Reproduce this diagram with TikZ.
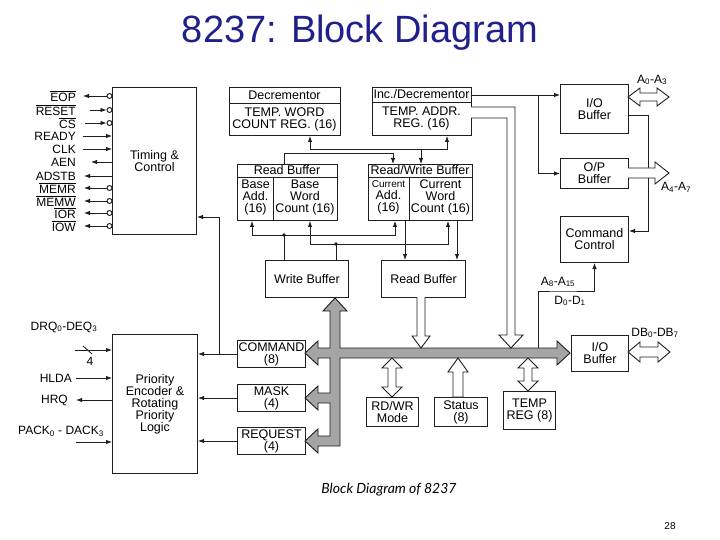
\documentclass[tikz,border=0pt]{standalone}
\usepackage{fontspec}
\setmainfont{Liberation Sans}
\newfontfamily\capfont{Lato}
\usetikzlibrary{arrows.meta}
\definecolor{titleblue}{RGB}{32,32,140}
\definecolor{busgray}{RGB}{165,165,165}
\definecolor{ink}{RGB}{30,30,30}
\newcommand\ovl[1]{$\overline{\hbox{#1}}$}
\newcommand\dfont{\fontsize{12.5}{12}\selectfont}
\newcommand\sfont{\fontsize{12}{12}\selectfont}
\newcommand\smfont{\fontsize{10}{12}\selectfont}
\begin{document}
\begin{tikzpicture}[x=1pt,y=-1pt,
  box/.style={draw=ink,line width=1pt,inner sep=0pt,anchor=north west,align=center,font=\dfont},
  txt/.style={inner sep=0pt,align=center,font=\dfont},
  lab/.style={inner sep=0pt,align=center,font=\sfont},
  sig/.style={circle,draw=ink,fill=white,inner sep=0pt,minimum size=5pt,line width=0.9pt},
  arr/.style={draw=ink,line width=0.8pt,-{Latex[length=6pt,width=4.4pt]}},
  ln/.style={draw=ink,line width=0.8pt},
  hollow/.style={draw=ink,fill=white,line width=0.9pt,line join=miter},
  dot/.style={circle,fill=ink,inner sep=0pt,minimum size=3.8pt}]
\fill[white] (0,0) rectangle (720,540);
\useasboundingbox (0,0) rectangle (720,540);

% title, caption, page
\node[inner sep=0pt,font=\fontsize{38}{40}\selectfont,text=titleblue] (title) at (360,33) {8237: Block Diagram};
\node[inner sep=0pt,font=\capfont\itshape\fontsize{14}{16}\selectfont] (cap) at (389,490) {Block Diagram of 8237};
\node[inner sep=0pt,font=\fontsize{10}{12}\selectfont] (pg) at (670,526) {28};

% ---------- boxes ----------
\node[box,minimum width=84pt,minimum height=147pt] (tc) at (112,87) {Timing \&\\Control};
\node[box,minimum width=85pt,minimum height=139pt] (pr) at (112,334) {Priority\\Encoder \&\\Rotating\\Priority\\Logic};

\node[box,minimum width=111pt,minimum height=48pt] (dec) at (229,87) {};
\draw[ln] (229,103) -- (340,103);
\node[txt] (decT) at (284.5,95) {Decrementor};
\node[txt] (decB) at (284.5,119) {TEMP. WORD\\COUNT REG. (16)};

\node[box,minimum width=99pt,minimum height=48pt] (inc) at (372,87) {};
\draw[ln] (372,102) -- (471,102);
\node[txt] (incT) at (421.5,94.5) {Inc./Decrementor};
\node[txt] (incB) at (421.5,118.5) {TEMP. ADDR.\\REG. (16)};

\node[box,minimum width=100pt,minimum height=56pt] (rb1) at (237,164) {};
\draw[ln] (237,177) -- (337,177);
\draw[ln] (273,177) -- (273,220);
\node[txt] (rb1T) at (287,170.5) {Read Buffer};
\node[txt] (rb1L) at (255.5,197) {Base\\Add.\\(16)};
\node[txt] (rb1R) at (305,197) {Base\\Word\\Count (16)};

\node[box,minimum width=104pt,minimum height=56pt] (rwb) at (368,164) {};
\draw[ln] (368,177) -- (472,177);
\draw[ln] (409,177) -- (409,220);
\node[txt] (rwbT) at (420,170.5) {Read/Write Buffer};
\node[txt] (rwbL) at (388.5,197) {{\smfont Current}\\Add.\\(16)};
\node[txt] (rwbR) at (440.5,197) {Current\\Word\\Count (16)};

\node[box,minimum width=83pt,minimum height=37pt] (wb) at (265,260) {Write Buffer};
\node[box,minimum width=84pt,minimum height=37pt] (rb2) at (381,260) {Read Buffer};

\node[box,minimum width=68pt,minimum height=27pt] (cmd) at (237,340) {COMMAND\\(8)};
\node[box,minimum width=68pt,minimum height=27pt] (mask) at (237,384) {MASK\\(4)};
\node[box,minimum width=68pt,minimum height=27pt] (req) at (237,427) {REQUEST\\(4)};

\node[box,minimum width=52pt,minimum height=29pt] (rdwr) at (366,397) {RD/WR\\Mode};
\node[box,minimum width=53pt,minimum height=29pt] (stat) at (434,397) {Status\\(8)};
\node[box,minimum width=52pt,minimum height=38pt] (treg) at (503,391) {TEMP\\REG (8)};

\node[box,minimum width=68pt,minimum height=49pt] (io1) at (560,84) {I/O\\Buffer};
\node[box,minimum width=68pt,minimum height=30pt] (op) at (560,158) {O/P\\Buffer};
\node[box,minimum width=68pt,minimum height=46pt] (cc) at (560,216) {Command\\Control};
\node[box,minimum width=57pt,minimum height=36pt] (io2) at (571,335) {I/O\\Buffer};

% ---------- timing & control signals ----------
\node[lab,anchor=east] (l1) at (76,96) {\ovl{EOP}};
\node[lab,anchor=east] (l2) at (76,110) {\ovl{RESET}};
\node[lab,anchor=east] (l3) at (76,123) {\ovl{CS}};
\node[lab,anchor=east] (l4) at (76,136) {READY};
\node[lab,anchor=east] (l5) at (76,149) {CLK};
\node[lab,anchor=east] (l6) at (76,162) {AEN};
\node[lab,anchor=east] (l7) at (76,176) {ADSTB};
\node[lab,anchor=east] (l8) at (76,188) {\ovl{MEMR}};
\node[lab,anchor=east] (l9) at (76,201) {\ovl{MEMW}};
\node[lab,anchor=east] (l10) at (76,213) {\ovl{IOR}};
\node[lab,anchor=east] (l11) at (76,226) {\ovl{IOW}};

\node[sig] (c1) at (109.5,96) {};
\node[sig] (c2) at (109.5,110) {};
\node[sig] (c3) at (109.5,123) {};
\node[sig] (c8) at (109.5,188) {};
\node[sig] (c9) at (109.5,201) {};
\node[sig] (c10) at (109.5,213) {};
\node[sig] (c11) at (109.5,226) {};

\draw[arr] (c1.west) -- ([xshift=7pt]l1.east);
\draw[arr] ([xshift=14pt]l2.east) -- (c2.west);
\draw[arr] ([xshift=9pt]l3.east) -- (c3.west);
\draw[arr] ([xshift=7pt]l4.east) -- (tc.west |- l4.east);
\draw[arr] ([xshift=7pt]l5.east) -- (tc.west |- l5.east);
\draw[arr] (tc.west |- l6.east) -- ([xshift=15pt]l6.east);
\draw[arr] (tc.west |- l7.east) -- ([xshift=8pt]l7.east);
\draw[arr] (c8.west) -- ([xshift=8pt]l8.east);
\draw[arr] (c9.west) -- ([xshift=8pt]l9.east);
\draw[arr] (c10.west) -- ([xshift=8pt]l10.east);
\draw[arr] (c11.west) -- ([xshift=8pt]l11.east);

% ---------- priority signals ----------
\node[lab] (drq) at (64,327) {DRQ\textsubscript{0}-DEQ\textsubscript{3}};
\coordinate (drqS) at (75,350);
\draw[arr] (drqS) -- (pr.west |- drqS);
\draw[ln] (83,346) -- (92,354);
\node[lab] (four) at (90,361) {4};
\node[lab,anchor=east] (hlda) at (72,378) {HLDA};
\draw[arr] ([xshift=4pt]hlda.east) -- (pr.west |- hlda.east);
\node[lab,anchor=east] (hrq) at (68,400) {HRQ};
\draw[arr] (pr.west |- hrq.east) -- ([xshift=8pt]hrq.east);
\node[lab] (pack) at (61,431) {PACK\textsubscript{0} - DACK\textsubscript{3}};
\coordinate (packS) at (76,442);
\draw[arr] (packS) -- (pr.west |- packS);

% ---------- command / mask / request to priority & timing ----------
\coordinate (j1) at (219,353.5);
\draw[arr] (cmd.west) -- (pr.east |- cmd.west);
\draw[arr] (j1) |- (tc.east |- 0,217);
\draw[arr] (mask.west) -- (pr.east |- mask.west);
\draw[arr] (req.west) -- (pr.east |- req.west);

% ---------- register interconnect ----------
\coordinate (jA) at (421,149);
\draw[arr] (jA) -| (dec.south -| 310,0);
\draw[arr] (jA) -| (inc.south -| 447,0);
\draw[arr] (jA) -- (rwb.north -| jA);
\draw[arr] (rb1.north -| 284,0) |- (393,153) -- (rwb.north -| 393,0);

\coordinate (jB) at (284,235);
\coordinate (jC) at (336,244);
\draw[ln] (wb.north -| jB) -- (jB);
\draw[ln] (wb.north -| jC) -- (jC);
\draw[arr] (jB) -| (rb1.south -| 252,0);
\draw[arr] (jB) -| (rwb.south -| 395,0);
\draw[arr] (jC) -| (rb1.south -| 310,0);
\draw[arr] (jC) -| (rwb.south -| 448,0);
\node[dot] (dB) at (jB) {};
\node[dot] (dC) at (jC) {};
\draw[arr] (rwb.south -| 405,0) -- (rb2.north -| 405,0);
\draw[arr] (rwb.south -| 457,0) -- (rb2.north -| 457,0);

% ---------- right column ----------
\coordinate (jD) at (538,95);
\draw[arr] (inc.east |- jD) -- (io1.west |- jD);
\draw[arr] (jD) |- (op.west);
\draw[arr] (io1.east |- 0,115) -- (648,115) |- (cc.east |- 0,231);
\coordinate (jE) at (538,348);
\draw[arr] (jE) |- (560,291) -| (cc.south);
\node[lab] (a815) at (558,282) {A\textsubscript{8}-A\textsubscript{15}};
\node[lab] (d01) at (570,301) {D\textsubscript{0}-D\textsubscript{1}};

% ---------- internal bus ----------
\filldraw[fill=busgray,draw=ink,line width=0.9pt,line join=miter]
 (335,298) -- (347,311) -- (340,311) -- (340,348) -- (557,348) -- (557,341) -- (570,353) -- (557,365) -- (557,358)
 -- (340,358) -- (340,446) -- (318,446) -- (318,453) -- (305,441) -- (318,429) -- (318,436) -- (330,436)
 -- (330,403) -- (318,403) -- (318,410) -- (305,398) -- (318,386) -- (318,393) -- (330,393)
 -- (330,358) -- (318,358) -- (318,365) -- (305,353) -- (318,341) -- (318,348) -- (330,348)
 -- (330,311) -- (323,311) -- cycle;

% ---------- hollow arrows ----------
% read buffer -> bus
\filldraw[hollow] (417,297) -- (417,336) -- (412,336) -- (421,348) -- (430,336) -- (425,336) -- (425,297);
% temp addr reg -> bus
\filldraw[hollow] (471,107) -- (515,107) -- (515,335) -- (523,335) -- (511,348) -- (499,335) -- (507,335) -- (507,118) -- (471,118);
% RD/WR mode
\filldraw[hollow] (392,358) -- (402,368) -- (396,368) -- (396,387) -- (402,387) -- (392,397) -- (382,387) -- (388,387) -- (388,368) -- (382,368) -- cycle;
% status -> bus
\filldraw[hollow] (458,358) -- (468,372) -- (463,372) -- (463,397) -- (453,397) -- (453,372) -- (448,372) -- cycle;
% temp reg
\filldraw[hollow] (528,358) -- (538,368) -- (532,368) -- (532,381) -- (538,381) -- (528,391) -- (518,381) -- (524,381) -- (524,368) -- (518,368) -- cycle;
% DB0-DB7
\filldraw[hollow] (628,352) -- (640,342) -- (640,347) -- (658,347) -- (658,342) -- (670,352) -- (658,362) -- (658,357) -- (640,357) -- (640,362) -- cycle;
\node[lab] (db) at (655,333) {DB\textsubscript{0}-DB\textsubscript{7}};
% A0-A3
\filldraw[hollow] (628,97) -- (640,88) -- (640,93) -- (657,93) -- (657,88) -- (669,97) -- (657,106) -- (657,101) -- (640,101) -- (640,106) -- cycle;
\node[lab] (a03) at (652,80) {A\textsubscript{0}-A\textsubscript{3}};
% A4-A7
\filldraw[hollow] (628,168) -- (655,168) -- (655,162) -- (669,173) -- (655,184) -- (655,178) -- (628,178);
\node[lab] (a47) at (676,187) {A\textsubscript{4}-A\textsubscript{7}};

\end{tikzpicture}
\end{document}
